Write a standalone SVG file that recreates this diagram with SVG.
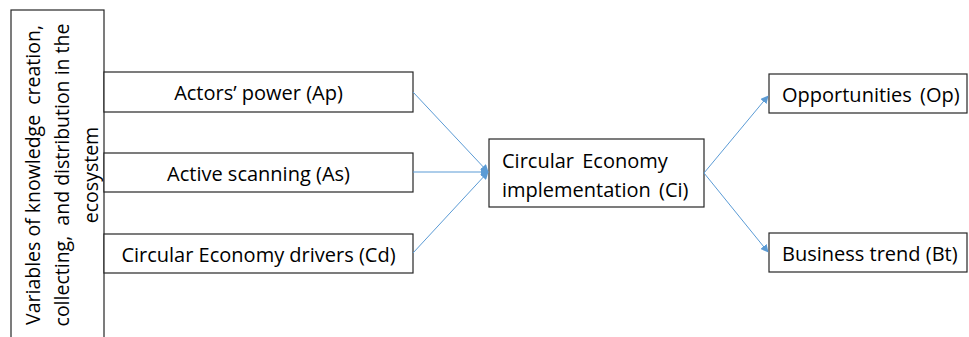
<svg xmlns="http://www.w3.org/2000/svg" width="969" height="337" viewBox="0 0 969 337">
<style>
.box{fill:#fff;stroke:#262626;stroke-width:1.2}
.t{font-family:"Open Sans","Liberation Sans",sans-serif;font-size:20px;fill:#000}
.v{font-size:19.5px}
.c{text-anchor:middle}
.w{word-spacing:3px}
.conn{stroke:#5B9BD5;stroke-width:1;fill:none;marker-end:url(#ah)}
</style>
<defs>
<marker id="ah" viewBox="0 0 10 10" refX="9" refY="5" markerWidth="8" markerHeight="8" orient="auto" markerUnits="userSpaceOnUse">
<path d="M0,0 L10,5 L0,10 z" fill="#5B9BD5"/>
</marker>
</defs>
<g id="variables">
<rect class="box" x="11" y="10" width="93" height="340"/>
<text class="t v c" transform="translate(40,175) rotate(-90)" xml:space="preserve"><tspan x="0" y="0">Variables of knowledge  creation,</tspan><tspan x="0" dy="29">collecting,  and distribution in the</tspan><tspan x="0" dy="29">ecosystem</tspan></text>
</g>
<g id="ap">
<rect class="box" x="104" y="72" width="309" height="40"/>
<text class="t c" x="258.5" y="100">Actors’ power (Ap)</text>
</g>
<g id="as">
<rect class="box" x="104" y="153" width="309" height="39"/>
<text class="t c" x="258.5" y="181">Active scanning (As)</text>
</g>
<g id="cd">
<rect class="box" x="104" y="234" width="309" height="39"/>
<text class="t c" x="258.5" y="262">Circular Economy drivers (Cd)</text>
</g>
<g id="ci">
<rect class="box" x="489" y="139" width="215" height="68"/>
<text class="t w" x="502" y="168">Circular Economy</text>
<text class="t w" x="502" y="197">implementation (Ci)</text>
</g>
<g id="op">
<rect class="box" x="769" y="74" width="198" height="39"/>
<text class="t w" x="782" y="102">Opportunities (Op)</text>
</g>
<g id="bt">
<rect class="box" x="769" y="233" width="198" height="39"/>
<text class="t" x="782" y="261">Business trend (Bt)</text>
</g>
<g id="connectors">
<line class="conn" x1="413" y1="92" x2="488" y2="172"/>
<line class="conn" x1="413" y1="172" x2="488" y2="172"/>
<line class="conn" x1="413" y1="253" x2="488" y2="172"/>
<line class="conn" x1="704" y1="173" x2="768" y2="96"/>
<line class="conn" x1="704" y1="173" x2="768" y2="252"/>
</g>
</svg>
